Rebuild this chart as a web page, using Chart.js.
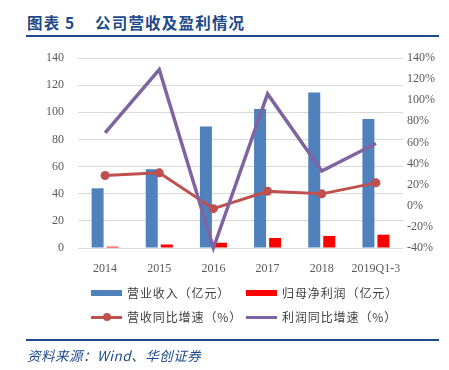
<!DOCTYPE html>
<html>
<head>
<meta charset="utf-8">
<script src="https://cdn.jsdelivr.net/npm/chart.js@4/dist/chart.umd.min.js"></script>
<style>
  body { margin: 0; background: #fff; }
  #wrap { position: relative; width: 449px; height: 370px; overflow: hidden; }
  #c { position: absolute; left: 0; top: 0; }
  .title { position: absolute; top: 11px; font: bold 15.5px "Noto Sans CJK SC", sans-serif; color: #1d4a8b; letter-spacing: 1.2px; white-space: pre; }
  .rule { position: absolute; left: 26px; width: 413px; height: 2px; background: #1d4a8b; }
  .src { position: absolute; left: 27px; top: 345px; font: italic 13.5px "Noto Sans CJK SC", serif; color: #1d4a8b; letter-spacing: 0.5px; }
  .lg { position: absolute; font: 12px "Noto Sans CJK SC", sans-serif; color: #404040; line-height: 16px; white-space: nowrap; letter-spacing: 0.9px; }
  .sw { position: absolute; width: 31px; }
</style>
</head>
<body>
<div id="wrap">
  <div class="title" style="left:27px">图表 5</div>
  <div class="title" style="left:95px">公司营收及盈利情况</div>
  <div class="rule" style="top:35px"></div>
  <canvas id="c" width="449" height="370"></canvas>
  <div id="legend"></div>
  <div class="rule" style="top:339px"></div>
  <div class="src">资料来源：Wind、华创证券</div>
</div>
<script>
// values
var labels = ['2014', '2015', '2016', '2017', '2018', '2019Q1-3'];
var revenue = [44, 58, 89.5, 102.5, 114.5, 95];        // 营业收入（亿元）
var netProfit = [1, 2.6, 3.9, 7.4, 8.9, 9.8];           // 归母净利润（亿元）
var revenueGrowth = [28.7, 31.2, -2.7, 13.8, 11.3, 21.7]; // 营收同比增速（%）
var profitGrowth = [69, 129, -40, 106, 33, 59];         // 利润同比增速（%）

var tickFont = { family: 'Liberation Serif', size: 12 };
var tickColor = '#595959';

var data = {
  labels: labels,
  datasets: [{
    type: 'bar',
    label: '营业收入（亿元）',
    data: revenue,
    backgroundColor: '#4f81bd',
    yAxisID: 'y',
    order: 3,
    categoryPercentage: 0.554,
    barPercentage: 0.8
  },
  {
    type: 'bar',
    label: '归母净利润（亿元）',
    data: netProfit,
    backgroundColor: '#ff0000',
    yAxisID: 'y',
    order: 3,
    categoryPercentage: 0.554,
    barPercentage: 0.8
  },
  {
    type: 'line',
    label: '营收同比增速（%）',
    data: revenueGrowth,
    borderColor: '#c0504d',
    backgroundColor: '#c0504d',
    borderWidth: 3,
    pointRadius: 4.5,
    pointBorderWidth: 0,
    tension: 0,
    yAxisID: 'y1',
    order: 2
  },
  {
    type: 'line',
    label: '利润同比增速（%）',
    data: profitGrowth,
    borderColor: '#8064a2',
    borderWidth: 3.5,
    pointRadius: 0,
    tension: 0,
    clip: false,
    yAxisID: 'y1',
    order: 1
  }]
};

var config = {
  data: data,
  options: {
    responsive: false,
    animation: false,
    layout: { padding: { top: 58, bottom: 0, left: 0, right: 0 } },
    plugins: { legend: { display: false }, tooltip: { enabled: false } },
    scales: {
      x: {
        grid: { display: false },
        border: { display: false },
        ticks: { color: tickColor, font: tickFont, padding: 6, maxRotation: 0, autoSkip: false },
        afterFit: function(s) { s.height = 122; }
      },
      y: {
        position: 'left',
        min: 0, max: 140,
        ticks: { stepSize: 20, color: tickColor, font: tickFont, padding: 14 },
        grid: { color: '#d9d9d9', lineWidth: 1, drawTicks: false },
        border: { display: false },
        afterFit: function(s) { s.width = 78; }
      },
      y1: {
        position: 'right',
        min: -40, max: 140,
        ticks: { stepSize: 20, color: tickColor, font: tickFont, padding: 4,
          callback: function(v) { return v + '%'; } },
        grid: { drawOnChartArea: false, drawTicks: false },
        border: { display: false },
        afterFit: function(s) { s.width = 46; }
      }
    }
  }
};

var chart = new Chart(document.getElementById('c'), config);

// legend in two rows, like the original
var items = [
  { text: '营业收入（亿元）', x: 91, y: 293, kind: 'box', color: '#4f81bd' },
  { text: '归母净利润（亿元）', x: 246, y: 293, kind: 'box', color: '#ff0000' },
  { text: '营收同比增速（%）', x: 91, y: 317, kind: 'dot', color: '#c0504d' },
  { text: '利润同比增速（%）', x: 246, y: 317, kind: 'line', color: '#8064a2' }
];
var lg = document.getElementById('legend');
items.forEach(function(it) {
  var h = it.kind == 'box' ? 6 : 3;
  var sw = document.createElement('div');
  sw.className = 'sw';
  sw.style.left = it.x + 'px';
  sw.style.top = (it.y - h / 2) + 'px';
  sw.style.height = h + 'px';
  sw.style.background = it.color;
  lg.appendChild(sw);
  if (it.kind == 'dot') {
    var d = document.createElement('div');
    d.style.cssText = 'position:absolute;width:8px;height:8px;border-radius:50%;background:' + it.color +
      ';left:' + (it.x + 11.5) + 'px;top:' + (it.y - 4) + 'px';
    lg.appendChild(d);
  }
  var t = document.createElement('div');
  t.className = 'lg';
  t.textContent = it.text;
  t.style.left = (it.x + 36) + 'px';
  t.style.top = (it.y - 8) + 'px';
  lg.appendChild(t);
});
</script>
</body>
</html>
